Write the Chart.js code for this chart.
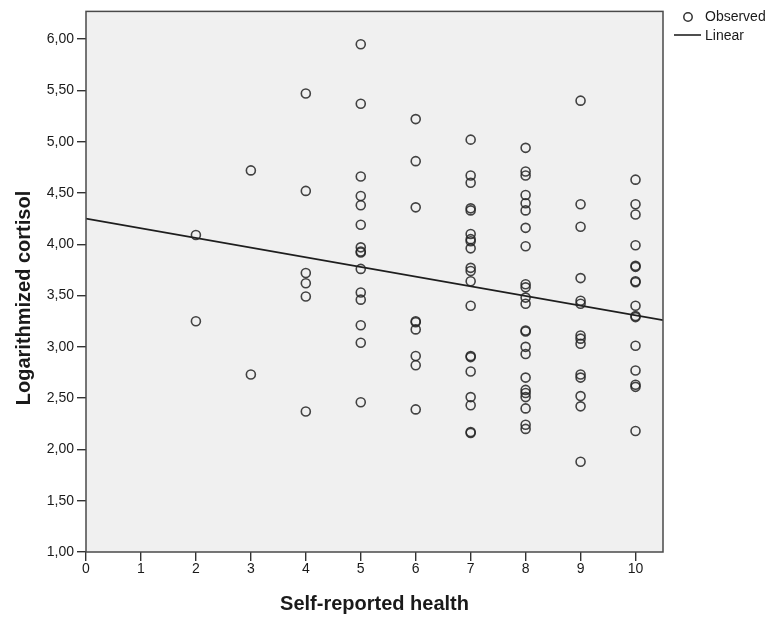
<!DOCTYPE html>
<html>
<head>
<meta charset="utf-8">
<script src="https://cdn.jsdelivr.net/npm/chart.js@4"></script>
<style>
  html, body { margin: 0; padding: 0; background: #fff; }
  #wrap { position: relative; width: 773px; height: 617px; }
</style>
</head>
<body>
<div id="wrap"><canvas id="grafico" width="773" height="617"></canvas></div>
<script>
// Dados (x = saúde auto-relatada, y = cortisol logaritmizado)
const saude2 = [4.09, 3.25];
const saude3 = [4.72, 2.73];
const saude4 = [5.47, 4.52, 3.72, 3.62, 3.49, 2.37];
const saude5 = [5.95, 5.37, 4.66, 4.47, 4.38, 4.19, 3.97, 3.93, 3.92, 3.76, 3.53, 3.46, 3.21, 3.04, 2.46];
const saude6 = [5.22, 4.81, 4.36, 3.25, 3.24, 3.17, 2.91, 2.82, 2.39];
const saude7 = [5.02, 4.67, 4.60, 4.35, 4.33, 4.10, 4.05, 4.03, 3.96, 3.77, 3.74, 3.64, 3.40, 2.91, 2.90, 2.76, 2.51, 2.43, 2.17, 2.16];
const saude8 = [4.94, 4.71, 4.67, 4.48, 4.40, 4.33, 4.16, 3.98, 3.61, 3.58, 3.48, 3.42, 3.16, 3.15, 3.00, 2.93, 2.70, 2.58, 2.55, 2.51, 2.40, 2.24, 2.20];
const saude9 = [5.40, 4.39, 4.17, 3.67, 3.45, 3.42, 3.11, 3.08, 3.03, 2.73, 2.70, 2.52, 2.42, 1.88];
const saude10 = [4.63, 4.39, 4.29, 3.99, 3.79, 3.78, 3.64, 3.63, 3.40, 3.30, 3.29, 3.01, 2.77, 2.63, 2.61, 2.18];

const categoriasX = [2, 3, 4, 5, 6, 7, 8, 9, 10];
const colunas = [saude2, saude3, saude4, saude5, saude6, saude7, saude8, saude9, saude10];

// Reta linear (extremos)
const linhaX = [0, 10.5];
const linhaY = [4.25, 3.26];

const yTicks = [1, 1.5, 2, 2.5, 3, 3.5, 4, 4.5, 5, 5.5, 6];
const xTicks = [0, 1, 2, 3, 4, 5, 6, 7, 8, 9, 10];

// Monta os pontos observados
const observados = [];
categoriasX.forEach((x, i) => {
    colunas[i].forEach(y => observados.push({ x: x, y: y }));
});
const linear = linhaX.map((x, i) => ({ x: x, y: linhaY[i] }));

const FONTE = "'Liberation Sans', Arial, sans-serif";

// Fundo cinza, moldura, título do eixo Y e legenda
const moldura = {
    id: 'moldura',
    beforeDraw(chart) {
        const { ctx, chartArea: a } = chart;
        ctx.save();
        ctx.fillStyle = '#f0f0f0';
        ctx.fillRect(a.left, a.top, a.right - a.left, a.bottom - a.top);
        ctx.restore();
    },
    afterDraw(chart) {
        const { ctx, chartArea: a } = chart;
        ctx.save();
        ctx.strokeStyle = '#4a4a4a';
        ctx.lineWidth = 1.5;
        ctx.strokeRect(a.left, a.top, a.right - a.left, a.bottom - a.top);

        // Título do eixo Y (um pouco abaixo do centro, como no original)
        ctx.save();
        ctx.translate(24, 298);
        ctx.rotate(-Math.PI / 2);
        ctx.fillStyle = '#1a1a1a';
        ctx.font = 'bold 20px ' + FONTE;
        ctx.textAlign = 'center';
        ctx.textBaseline = 'middle';
        ctx.fillText('Logarithmized cortisol', 0, 0);
        ctx.restore();

        // Legenda
        const lx = a.right + 10;
        ctx.strokeStyle = '#333';
        ctx.lineWidth = 1.5;
        ctx.beginPath();
        ctx.arc(lx + 15, 17, 4.2, 0, Math.PI * 2);
        ctx.stroke();
        ctx.strokeStyle = '#222';
        ctx.lineWidth = 1.6;
        ctx.beginPath();
        ctx.moveTo(lx + 1, 35);
        ctx.lineTo(lx + 28, 35);
        ctx.stroke();
        ctx.fillStyle = '#1a1a1a';
        ctx.font = '14px ' + FONTE;
        ctx.textBaseline = 'middle';
        ctx.textAlign = 'left';
        ctx.fillText('Observed', lx + 32, 17);
        ctx.fillText('Linear', lx + 32, 36);
        ctx.restore();
    }
};

const virgula = v => Number(v).toFixed(2).replace('.', ',');

new Chart(document.getElementById('grafico'), {
    type: 'scatter',
    data: {
        datasets: [
            {
                label: 'Observed',
                data: observados,
                pointStyle: 'circle',
                pointRadius: 4.5,
                pointHoverRadius: 4.5,
                pointBorderWidth: 1.6,
                pointBorderColor: 'rgba(35,35,35,0.85)',
                pointBackgroundColor: 'rgba(0,0,0,0)'
            },
            {
                label: 'Linear',
                type: 'line',
                data: linear,
                borderColor: '#1e1e1e',
                borderWidth: 1.7,
                pointRadius: 0,
                fill: false,
                tension: 0
            }
        ]
    },
    options: {
        responsive: false,
        animation: false,
        layout: { padding: { top: 10, right: 110, left: 0, bottom: 0 } },
        plugins: { legend: { display: false }, tooltip: { enabled: false } },
        scales: {
            x: {
                type: 'linear',
                min: 0,
                max: 10.5,
                afterBuildTicks: s => { s.ticks = xTicks.map(v => ({ value: v })); },
                afterFit: s => { s.height = 65; },
                grid: { drawOnChartArea: false, drawTicks: true, tickLength: 9, color: '#333', lineWidth: 1.4 },
                border: { display: false },
                ticks: { color: '#1a1a1a', font: { family: FONTE, size: 14 }, padding: 0, maxRotation: 0 },
                title: {
                    display: true,
                    text: 'Self-reported health',
                    color: '#1a1a1a',
                    font: { family: FONTE, size: 20, weight: 'bold' },
                    padding: { top: 0, bottom: 1 }
                }
            },
            y: {
                type: 'linear',
                min: 1,
                max: 6.27,
                afterBuildTicks: s => { s.ticks = yTicks.map(v => ({ value: v })); },
                afterFit: s => { s.width = 86; },
                grid: { drawOnChartArea: false, drawTicks: true, tickLength: 9, color: '#333', lineWidth: 1.4 },
                border: { display: false },
                ticks: { color: '#1a1a1a', font: { family: FONTE, size: 14 }, padding: 3, callback: virgula },
                title: { display: false }
            }
        }
    },
    plugins: [moldura]
});
</script>
</body>
</html>
